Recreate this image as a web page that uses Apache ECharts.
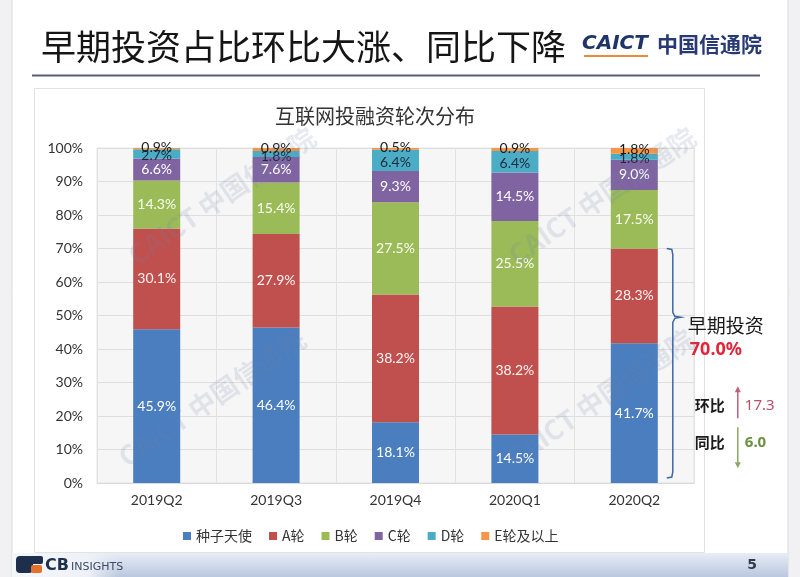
<!DOCTYPE html>
<html>
<head>
<meta charset="utf-8">
<script src="https://cdn.jsdelivr.net/npm/echarts@6/dist/echarts.min.js"></script>
<style>
html,body{margin:0;padding:0;background:#fff;}
#c{width:800px;height:577px;}
</style>
</head>
<body>
<div id="c"></div>
<script>
// ---- data ----
const quarters = ['2019Q2', '2019Q3', '2019Q4', '2020Q1', '2020Q2'];
const seriesNames = ['种子天使', 'A轮', 'B轮', 'C轮', 'D轮', 'E轮及以上'];
const seedAngel = [45.9, 46.4, 18.1, 14.5, 41.7];
const roundA    = [30.1, 27.9, 38.2, 38.2, 28.3];
const roundB    = [14.3, 15.4, 27.5, 25.5, 17.5];
const roundC    = [6.6, 7.6, 9.3, 14.5, 9.0];
const roundD    = [2.7, 1.8, 6.4, 6.4, 1.8];
const roundE    = [0.9, 0.9, 0.5, 0.9, 1.8];
const yTicks = [0, 10, 20, 30, 40, 50, 60, 70, 80, 90, 100];

const colors = ['#4a7ebf', '#c0504d', '#9bbb59', '#8064a2', '#4bacc6', '#f79646'];
const labelColors = ['#ffffff', '#fff3f3', '#f8fff0', '#ffffff', '#1c2a3a', '#1a1a1a'];
const FONT = "Lato, 'Noto Sans CJK SC', sans-serif";
const CJK = "'Noto Sans CJK SC', sans-serif";

const chart = echarts.init(document.getElementById('c'), null, {renderer: 'canvas'});
const allData = [seedAngel, roundA, roundB, roundC, roundD, roundE];

const option = {
  animation: false,
  backgroundColor: '#ffffff',
  title: {
    text: '互联网投融资轮次分布',
    left: 370, top: 101, textAlign: 'center',
    textStyle: {fontFamily: CJK, fontSize: 20, fontWeight: 'normal', color: '#333'}
  },
  legend: {
    data: seriesNames,
    left: 178, top: 524,
    icon: 'rect', itemWidth: 8, itemHeight: 8, itemGap: 17,
    textStyle: {fontFamily: CJK, fontSize: 14, color: '#333'}
  },
  grid: {
    left: 97, right: 106, top: 148, bottom: 94,
    show: true, backgroundColor: '#f6f6f6', borderColor: '#e4e4e4', borderWidth: 1
  },
  xAxis: {
    type: 'category', data: quarters,
    axisLine: {show: true, lineStyle: {color: '#d9d9d9'}},
    axisTick: {show: false},
    splitLine: {show: true, lineStyle: {color: '#e2e2e2'}},
    axisLabel: {fontFamily: FONT, fontSize: 14, color: '#333', margin: 10}
  },
  yAxis: {
    type: 'value', min: yTicks[0], max: yTicks[yTicks.length - 1], interval: 10,
    axisLine: {show: false}, axisTick: {show: false},
    splitLine: {lineStyle: {color: '#dedede'}},
    axisLabel: {fontFamily: FONT, fontSize: 14, color: '#333', margin: 14, formatter: v => v + '%'}
  },
  series: seriesNames.map((name, i) => ({
    name, type: 'bar', stack: 'total', barWidth: 47,
    data: allData[i],
    itemStyle: {color: colors[i]},
    label: {
      show: true, position: 'inside',
      color: labelColors[i], fontFamily: FONT, fontSize: 14,
      formatter: p => p.value.toFixed(1) + '%',
      offset: i === 5 ? [0, -1] : (i === 4 ? [0, 2] : [0, 0])
    }
  }))
};
chart.setOption(option);

// ---- annotation derived from data ----
const last = quarters.length - 1;
const earlyNow = seedAngel[last] + roundA[last];
const earlyPrevQ = seedAngel[last - 1] + roundA[last - 1];
const earlyPrevY = seedAngel[0] + roundA[0];
const qoq = earlyNow - earlyPrevQ;
const yoy = earlyPrevY - earlyNow;

const pTop = chart.convertToPixel({xAxisIndex: 0, yAxisIndex: 0}, [quarters[last], earlyNow]);
const pBot = chart.convertToPixel({xAxisIndex: 0, yAxisIndex: 0}, [quarters[last], 0]);
const bx = pBot[0] + 47 / 2 + 15;
const yT = pTop[1], yB = pBot[1] - 5;
const yM = yT + (yB - yT) * 0.30;

function txt(text, x, y, font, fill, align) {
  return {type: 'text', silent: true, style: {text, x, y, font, fill, textAlign: align || 'left', textVerticalAlign: 'middle'}};
}

const wm = (x, y) => ({
  type: 'text', silent: true, x, y, rotation: 0.6, z: 50,
  style: {text: 'CAICT 中国信通院', x: 0, y: 0, font: "bold 27px 'Noto Sans CJK SC', sans-serif",
    fill: 'rgba(110,130,165,0.17)', textAlign: 'center', textVerticalAlign: 'middle'}
});

const graphics = [
  // slide side strips
  {type: 'rect', shape: {x: 0, y: 0, width: 12, height: 577}, style: {fill: '#f1f1f3'}, z: -10},
  {type: 'rect', shape: {x: 788, y: 0, width: 12, height: 577}, style: {fill: '#f1f1f3'}, z: -10},
  {type: 'line', shape: {x1: 12, y1: 0, x2: 12, y2: 577}, style: {stroke: '#dcdce0', lineWidth: 1}, z: -9},
  {type: 'line', shape: {x1: 788, y1: 0, x2: 788, y2: 577}, style: {stroke: '#dcdce0', lineWidth: 1}, z: -9},
  // chart panel
  {type: 'rect', shape: {x: 34.5, y: 88.5, width: 670, height: 464}, style: {fill: '#ffffff', stroke: '#e2e2e2', lineWidth: 1}, z: -8},
  // header
  txt('早期投资占比环比大涨、同比下降', 41, 47, "35px 'Noto Sans CJK SC', sans-serif", '#151515'),
  {type: 'line', shape: {x1: 32, y1: 75.5, x2: 760, y2: 75.5}, style: {stroke: '#5a5f70', lineWidth: 2}},
  txt('CAICT', 582, 44, "italic 900 20px 'DejaVu Sans', sans-serif", '#1f3568'),
  {type: 'rect', shape: {x: 584, y: 55, width: 64, height: 2}, style: {fill: '#e98b3a'}},
  txt('中国信通院', 657, 44, "bold 21px 'Noto Sans CJK SC', sans-serif", '#273a74'),
  // footer
  {type: 'rect', shape: {x: 12, y: 553, width: 776, height: 24},
    style: {fill: new echarts.graphic.LinearGradient(0, 0, 0, 1, [{offset: 0, color: '#e8edf6'}, {offset: 1, color: '#b9c7df'}])}, z: -5},
  {type: 'rect', shape: {x: 12, y: 553, width: 108, height: 24},
    style: {fill: new echarts.graphic.LinearGradient(0, 0, 1, 0, [{offset: 0, color: '#f4f6fa'}, {offset: 0.7, color: '#eef1f7'}, {offset: 1, color: 'rgba(230,235,245,0)'}])}, z: -4},
  {type: 'rect', shape: {x: 16, y: 556, width: 17, height: 17, r: 4}, style: {fill: '#1e2f4d'}},
  {type: 'rect', shape: {x: 29, y: 556, width: 14, height: 8, r: 2}, style: {fill: '#1e2f4d'}},
  {type: 'rect', shape: {x: 31, y: 565, width: 11, height: 8, r: 2}, style: {fill: '#e5702a'}},
  txt('CB', 45, 566, "bold 16px 'DejaVu Sans', sans-serif", '#1e2f4d'),
  txt('INSIGHTS', 71, 567, "11px 'DejaVu Sans', sans-serif", '#3b4a66'),
  txt('5', 752, 565, "bold 14px 'DejaVu Sans', sans-serif", '#333a48', 'center'),
  // watermarks
  wm(222, 196), wm(212, 398), wm(602, 196), wm(600, 398),
  // bracket
  {type: 'polyline', silent: true, z: 60,
    shape: {points: [[bx - 6, yT], [bx - 1, yT + 1], [bx, yT + 6], [bx, yM - 5], [bx + 2, yM - 1], [bx + 8, yM],
      [bx + 2, yM + 1], [bx, yM + 5], [bx, yB - 6], [bx - 1, yB - 1], [bx - 6, yB]]},
    style: {stroke: '#3d67a8', lineWidth: 1.5, fill: null}},
  txt('早期投资', bx + 15, yM + 8, "19px 'Noto Sans CJK SC', sans-serif", '#1a1a1a'),
  txt(earlyNow.toFixed(1) + '%', bx + 17, yM + 33, "bold 18px 'Noto Sans', sans-serif", '#e0253a'),
  txt('环比', bx + 22, yM + 88, "bold 15px 'Noto Sans CJK SC', sans-serif", '#1a1a1a'),
  {type: 'line', shape: {x1: bx + 65, y1: yM + 101, x2: bx + 65, y2: yM + 72}, style: {stroke: '#c0607a', lineWidth: 1.5}},
  {type: 'polygon', shape: {points: [[bx + 62, yM + 75], [bx + 65, yM + 69], [bx + 68, yM + 75]]}, style: {fill: '#c0607a'}},
  txt(qoq.toFixed(1), bx + 72, yM + 88, "15px 'Noto Sans', sans-serif", '#b8506a'),
  txt('同比', bx + 22, yM + 125, "bold 15px 'Noto Sans CJK SC', sans-serif", '#1a1a1a'),
  {type: 'line', shape: {x1: bx + 65, y1: yM + 110, x2: bx + 65, y2: yM + 148}, style: {stroke: '#8aa860', lineWidth: 1.5}},
  {type: 'polygon', shape: {points: [[bx + 62, yM + 145], [bx + 65, yM + 151], [bx + 68, yM + 145]]}, style: {fill: '#8aa860'}},
  txt(yoy.toFixed(1), bx + 72, yM + 125, "bold 15px 'Noto Sans', sans-serif", '#6f9040')
];
chart.setOption({graphic: graphics});
</script>
</body>
</html>
